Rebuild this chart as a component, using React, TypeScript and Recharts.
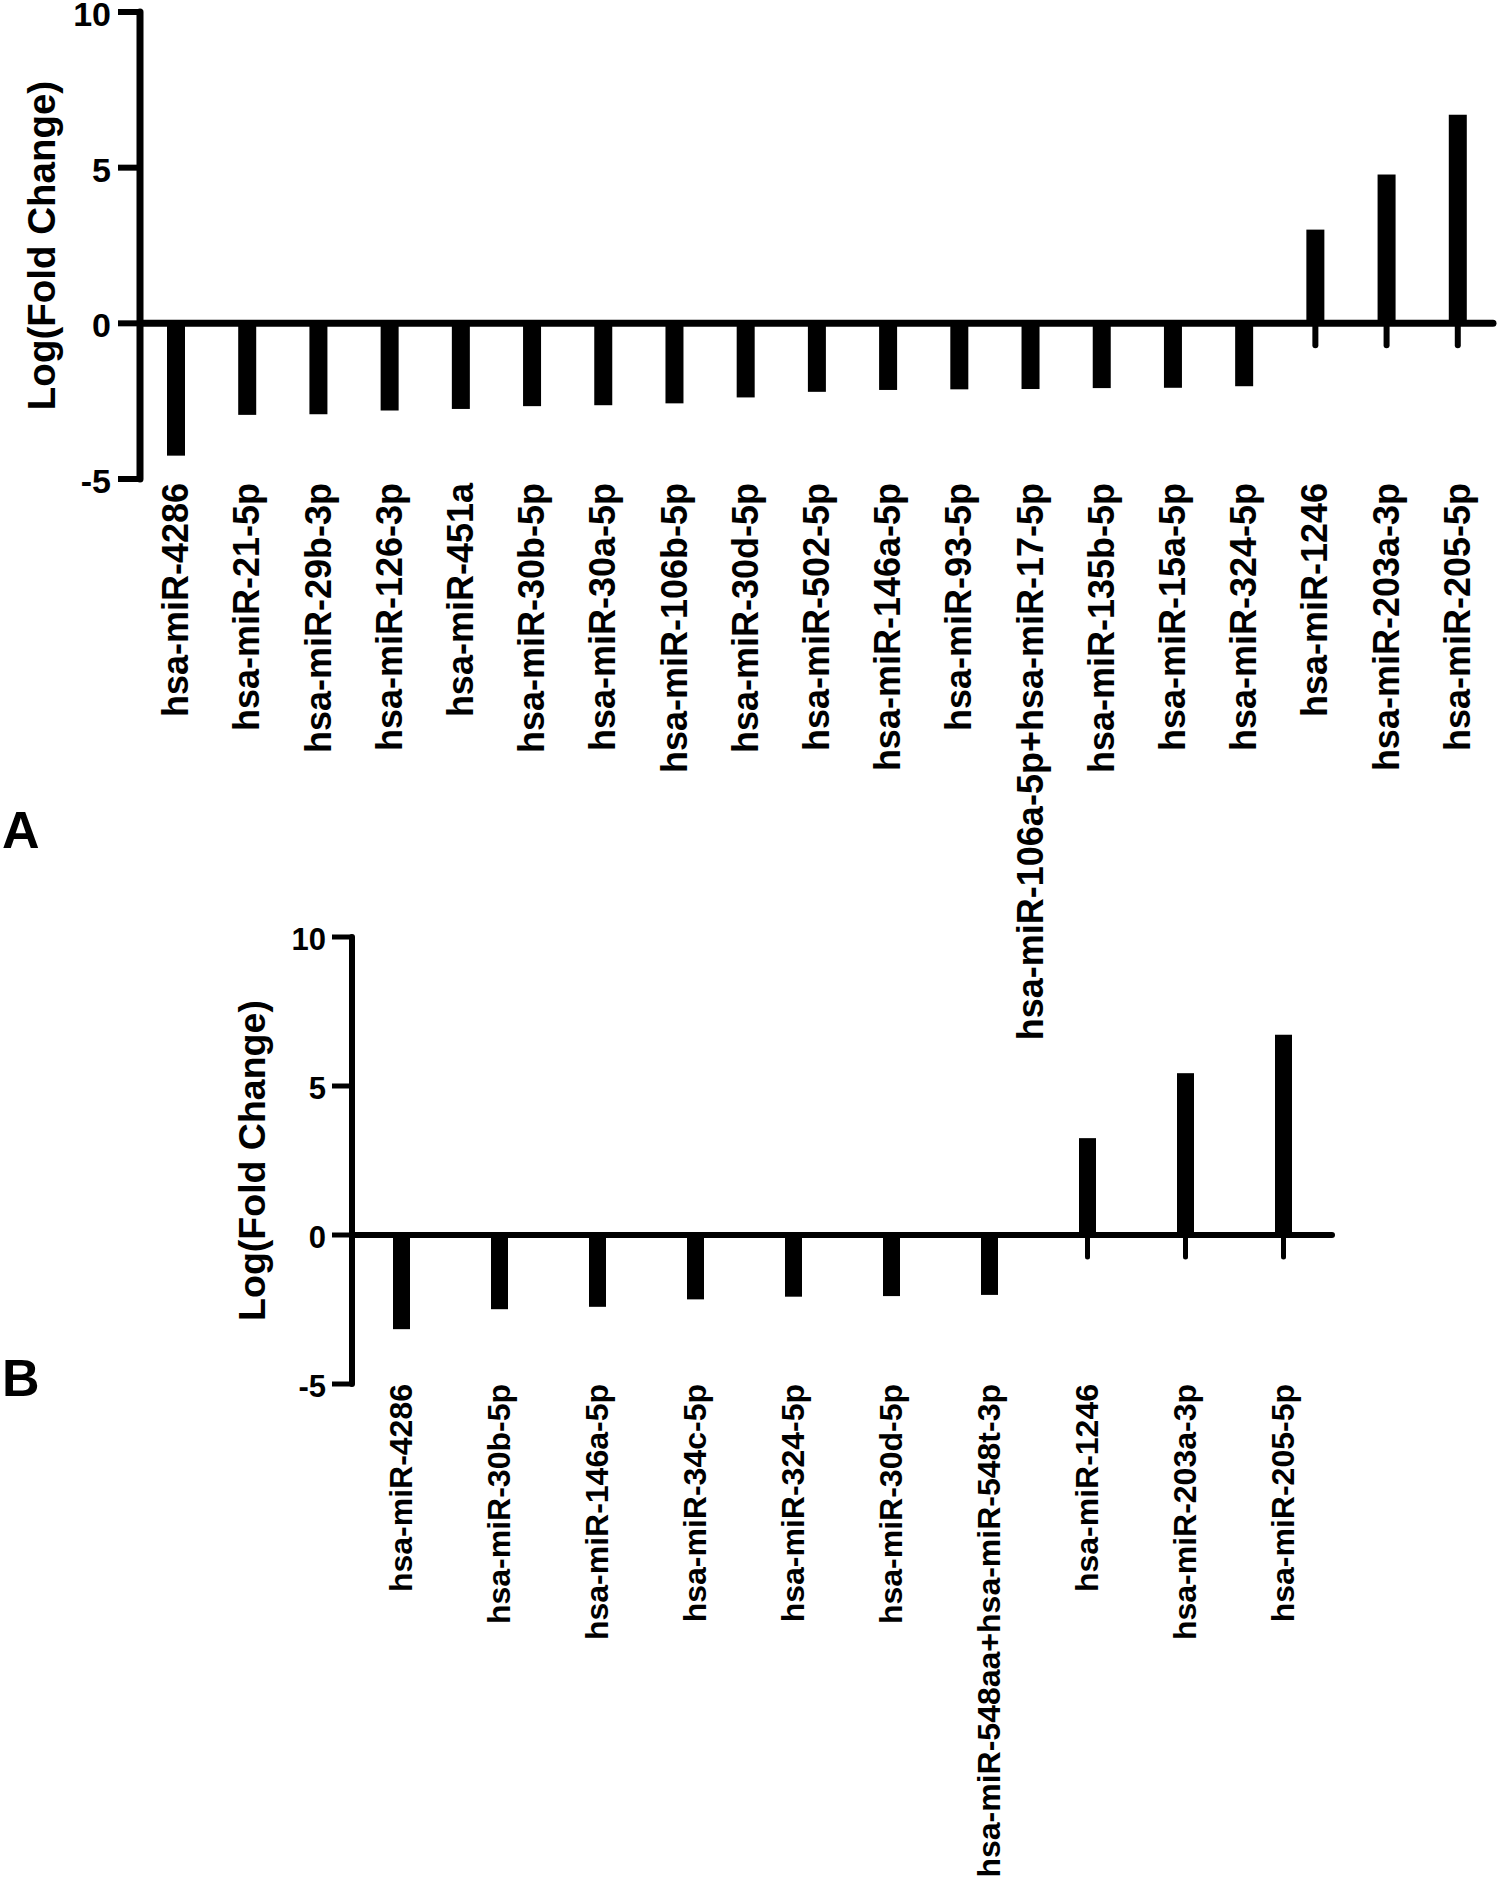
import React from 'react';
import { BarChart, Bar, XAxis, YAxis, ReferenceLine, Label } from 'recharts';

// Panel A: miRNAs, log fold change
const panelALabels = [
    'hsa-miR-4286',
    'hsa-miR-21-5p',
    'hsa-miR-29b-3p',
    'hsa-miR-126-3p',
    'hsa-miR-451a',
    'hsa-miR-30b-5p',
    'hsa-miR-30a-5p',
    'hsa-miR-106b-5p',
    'hsa-miR-30d-5p',
    'hsa-miR-502-5p',
    'hsa-miR-146a-5p',
    'hsa-miR-93-5p',
    'hsa-miR-106a-5p+hsa-miR-17-5p',
    'hsa-miR-135b-5p',
    'hsa-miR-15a-5p',
    'hsa-miR-324-5p',
    'hsa-miR-1246',
    'hsa-miR-203a-3p',
    'hsa-miR-205-5p',
];
const panelAValues = [
    -4.25, -2.94, -2.92, -2.8, -2.75, -2.66, -2.63, -2.57, -2.38, -2.2,
    -2.14, -2.12, -2.11, -2.08, -2.07, -2.02, 3.01, 4.78, 6.7,
];

// Panel B
const panelBLabels = [
    'hsa-miR-4286',
    'hsa-miR-30b-5p',
    'hsa-miR-146a-5p',
    'hsa-miR-34c-5p',
    'hsa-miR-324-5p',
    'hsa-miR-30d-5p',
    'hsa-miR-548aa+hsa-miR-548t-3p',
    'hsa-miR-1246',
    'hsa-miR-203a-3p',
    'hsa-miR-205-5p',
];
const panelBValues = [-3.16, -2.49, -2.41, -2.16, -2.07, -2.05, -2.01, 3.25, 5.43, 6.72];

const yTicks = [-5, 0, 5, 10];
const yDomain = [-5, 10];

const FONT = '"Liberation Sans", Arial, Helvetica, sans-serif';

const panelAData = panelALabels.map((name, i) => ({ name, value: panelAValues[i] }));
const panelBData = panelBLabels.map((name, i) => ({ name, value: panelBValues[i] }));

// bar plus the little category tick hanging under the zero line
const MirBar = (props: any) => {
    const { x, y, width, height, tickLen, tickWidth } = props;
    const base = y + height;
    const top = Math.min(y, base);
    const h = Math.abs(height);
    const cx = x + width / 2;
    return (
        <g>
            <line x1={cx} y1={base} x2={cx} y2={base + tickLen} stroke="#000" strokeWidth={tickWidth} strokeLinecap="round" />
            <rect x={x} y={top} width={width} height={h} fill="#000" />
        </g>
    );
};

const makeNameTick = (fs: number) => (props: any) => {
    const { x, y, payload } = props;
    return (
        <text
            x={x}
            y={y}
            transform={`rotate(-90, ${x}, ${y})`}
            textAnchor="end"
            dominantBaseline="central"
            fontFamily={FONT}
            fontWeight={700}
            fontSize={fs}
            fill="#000"
        >
            {payload.value}
        </text>
    );
};

const makeValueTick = (fs: number) => (props: any) => {
    const { x, y, payload } = props;
    return (
        <text
            x={x}
            y={y}
            dy={2}
            textAnchor="end"
            dominantBaseline="central"
            fontFamily={FONT}
            fontWeight={700}
            fontSize={fs}
            fill="#000"
        >
            {payload.value}
        </text>
    );
};

const yLabel = (offset: number, size: number) => (props: any) => {
    const vb = props.viewBox;
    const cx = vb.x + vb.width - offset;
    const cy = vb.y + vb.height / 2;
    return (
        <text
            x={cx}
            y={cy}
            transform={`rotate(-90, ${cx}, ${cy})`}
            textAnchor="middle"
            dominantBaseline="central"
            fontFamily={FONT}
            fontWeight={700}
            fontSize={size}
            fill="#000"
        >
            Log(Fold Change)
        </text>
    );
};

interface PanelProps {
    data: { name: string; value: number }[];
    width: number;
    height: number;
    margin: { top: number; right: number; bottom: number; left: number };
    yAxisWidth: number;
    xAxisHeight: number;
    barSize: number;
    axisWidth: number;
    tickSize: number;
    tickMargin: number;
    xTickMargin: number;
    labelOffset: number;
    labelSize: number;
    valueFont: number;
    nameFont: number;
}

const FoldChangePanel: React.FC<PanelProps> = (p) => (
    <BarChart width={p.width} height={p.height} data={p.data} margin={p.margin} barSize={p.barSize}>
        <XAxis
            dataKey="name"
            interval={0}
            height={p.xAxisHeight}
            axisLine={false}
            tickLine={false}
            tickSize={0}
            tickMargin={p.xTickMargin}
            tick={makeNameTick(p.nameFont)}
        />
        <YAxis
            type="number"
            domain={yDomain}
            ticks={yTicks}
            interval={0}
            width={p.yAxisWidth}
            axisLine={{ stroke: '#000', strokeWidth: p.axisWidth, strokeLinecap: 'round' }}
            tickLine={{ stroke: '#000', strokeWidth: p.axisWidth - 1 }}
            tickSize={p.tickSize}
            tickMargin={p.tickMargin}
            tick={makeValueTick(p.valueFont)}
        >
            <Label content={yLabel(p.labelOffset, p.labelSize)} />
        </YAxis>
        <ReferenceLine y={0} stroke="#000" strokeWidth={p.axisWidth} strokeLinecap="round" />
        <Bar
            dataKey="value"
            isAnimationActive={false}
            shape={(bp: any) => <MirBar {...bp} tickLen={22} tickWidth={p.axisWidth - 1} />}
        />
    </BarChart>
);

const panelLetter: React.CSSProperties = {
    position: 'absolute',
    left: 2,
    fontFamily: FONT,
    fontWeight: 700,
    fontSize: 52,
    lineHeight: 1,
    color: '#000',
};

export default function App() {
    return (
        <div style={{ position: 'absolute', left: 0, top: 0, width: 1502, height: 1887, background: '#fff', overflow: 'hidden' }}>
            <div style={{ position: 'absolute', left: 0, top: 0 }}>
                <FoldChangePanel
                    data={panelAData}
                    width={1502}
                    height={1040}
                    margin={{ top: 12, right: 9, bottom: 0, left: 0 }}
                    yAxisWidth={140}
                    xAxisHeight={561}
                    barSize={18}
                    axisWidth={7}
                    tickSize={22}
                    tickMargin={7}
                    xTickMargin={4}
                    labelOffset={99}
                    labelSize={38.5}
                    valueFont={34}
                    nameFont={36}
                />
            </div>
            <div style={{ position: 'absolute', left: 0, top: 880 }}>
                <FoldChangePanel
                    data={panelBData}
                    width={1502}
                    height={1007}
                    margin={{ top: 57, right: 170, bottom: 0, left: 0 }}
                    yAxisWidth={352}
                    xAxisHeight={503}
                    barSize={17}
                    axisWidth={6}
                    tickSize={20}
                    tickMargin={6}
                    xTickMargin={0}
                    labelOffset={100}
                    labelSize={37.5}
                    valueFont={31}
                    nameFont={32}
                />
            </div>
            <div style={{ ...panelLetter, top: 804 }}>A</div>
            <div style={{ ...panelLetter, top: 1352 }}>B</div>
        </div>
    );
}
